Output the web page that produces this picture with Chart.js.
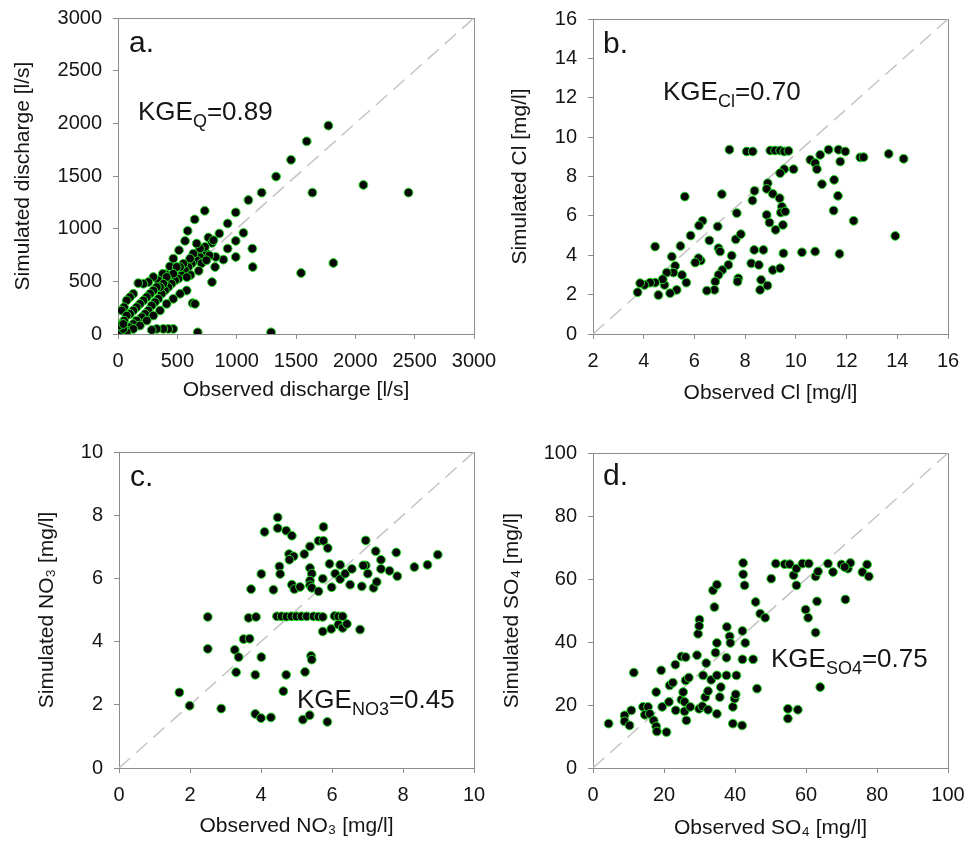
<!DOCTYPE html>
<html>
<head>
<meta charset="utf-8">
<script src="https://cdn.jsdelivr.net/npm/chart.js@4"></script>
<style>
  body { margin: 0; background: #fff; }
  #wrap { position: relative; width: 975px; height: 844px; }
  #wrap canvas { position: absolute; left: 0; top: 0; }
</style>
</head>
<body>
<div id="wrap">
  <canvas id="pa" width="975" height="844"></canvas>
  <canvas id="pb" width="975" height="844"></canvas>
  <canvas id="pc" width="975" height="844"></canvas>
  <canvas id="pd" width="975" height="844"></canvas>
</div>
<script>
// a. discharge [l/s]
const obsQ = [1773,1590,1458,1332,1211,1099,992,924,854,731,646,587,565,514,466,438,402,368,345,
  1638,2068,2448,1815,1543,1135,1132,1057,992,992,924,888,823,818,762,792,792,
  1290,672,629,649,466,424,382,326,284,31,
  377,340,298,256,214,171,129,101,73,51,31,
  747,691,663,621,593,565,537,509,481,452,424,396,368,340,312,284,256,228,200,157,129,101,73,
  804,733,691,635,607,663,551,523,495,466,410,382,354,326,298,270,242,214,185,157,129,101,73,51,31,
  579,523,466,410,354,298,242,185,129,73,17,45,11,45,
  705,770,745,680,612,580];
const simQ = [1978,1829,1654,1495,1342,1272,1154,1049,954,1170,1088,979,884,795,716,642,567,529,481,
  1342,1415,1342,674,579,636,811,960,884,731,811,706,731,636,916,865,493,
  16,16,293,286,48,48,48,48,38,32,
  572,509,541,493,477,483,382,350,318,254,223,
  763,731,700,668,636,604,557,525,509,477,445,413,382,334,302,270,223,191,159,127,95,64,32,
  890,827,811,763,716,859,668,636,636,572,541,477,445,445,413,382,350,318,286,254,223,191,175,127,95,
  413,382,334,286,223,175,127,80,48,16,16,48,80,95,
  672,745,700,600,560,540];

// b. chloride [mg/l]
const obsCl = [7.38,8.06,8.30,8.99,9.18,9.38,9.54,9.71,11.29,11.68,11.95,13.66,14.25,12.54,12.67,
  10.96,10.57,10.76,10.83,11.75,9.91,9.54,9.38,11.03,11.51,11.66,11.49,12.28,13.92,
  8.89,8.85,9.09,9.36,9.45,9.41,9.58,8.85,8.96,9.2,9.49,9.51,10.24,10.76,11.72,
  8.37,8.29,8.36,8.72,8.24,8.54,9.09,9.38,8.63,8.59,8.88,7.67,7.63,7.83,7.47,7.34,7.73,7.7,
  7.08,6.92,6.95,7.01,7.1,6.95,6.82,6.79,6.49,6.59,6.25,6.16,6.03,6.32,6.18,5.85,
  5.62,5.68,5.51,5.45,5.24,5.11,5.17,4.91,5.30,5.04,4.58,4.82,4.75,4.45,4.45,4.25,4.03,3.86,3.76];
const simCl = [9.36,9.27,9.27,9.32,9.32,9.32,9.27,9.30,9.36,9.36,9.27,9.15,8.9,8.97,8.98,
  9.1,8.85,8.68,8.37,8.76,8.37,8.37,8.17,7.61,7.83,7.02,6.27,5.75,4.98,
  7.66,7.37,7.12,6.9,6.47,6.17,6.22,6.05,5.66,5.29,5.54,4.1,4.15,4.19,4.07,
  7.27,6.78,4.27,4.27,3.59,3.51,3.25,3.34,2.75,2.24,2.46,6.14,4.81,5.07,3.98,3.51,2.83,2.66,
  7.1,5.46,4.36,4.19,3.25,3.0,2.66,2.24,2.2,4.75,3.73,3.85,3.63,5.75,5.51,5.0,
  6.98,2.61,3.0,4.47,3.46,3.93,3.12,3.12,2.24,2.07,1.98,2.49,2.78,4.44,2.61,2.61,2.49,2.58,2.12];

// c. nitrate [mg/l]
const obsNO3 = [1.70,1.99,2.88,2.50,2.50,3.26,3.37,3.30,3.51,3.68,3.65,3.86,3.72,4.01,4.10,3.84,4.01,3.84,4.00,4.28,
  4.47,4.47,4.71,4.87,4.52,4.54,4.35,4.79,4.92,4.80,4.87,4.94,5.10,5.22,5.38,5.38,5.43,5.38,5.38,5.43,
  5.62,5.62,5.76,5.76,5.88,5.74,5.93,5.99,6.09,6.23,6.23,6.37,6.56,6.51,6.84,6.95,6.95,7.01,7.17,7.26,
  7.23,7.38,7.38,7.62,7.81,7.84,8.32,8.69,8.98,6.88,
  4.45,4.58,4.72,4.86,5.00,5.14,5.29,5.48,5.62,5.74,6.07,6.18,6.30,
  5.74,5.98,6.18,6.30,6.42,6.79,4.71,4.63,5.24,5.41,5.43,5.18,5.37,5.87];
const simNO3 = [2.39,1.97,1.88,4.78,3.77,3.74,3.51,3.03,4.08,4.09,4.75,4.78,5.66,6.14,7.47,2.95,3.51,1.71,1.58,1.60,
  7.93,7.59,7.51,7.35,6.38,6.14,5.64,6.77,6.70,6.59,5.80,5.66,5.73,6.77,7.01,6.33,6.15,5.93,5.78,5.70,
  5.59,7.19,7.19,7.63,6.96,5.99,6.46,5.72,6.15,6.43,5.98,6.15,6.30,5.80,5.75,7.20,6.41,6.15,5.70,5.89,
  6.86,6.59,6.30,6.24,6.82,6.07,6.36,6.43,6.75,6.41,
  4.80,4.80,4.79,4.80,4.80,4.80,4.80,4.80,4.79,4.78,4.81,4.80,4.80,
  4.32,4.40,4.54,4.43,4.56,4.38,2.95,2.43,3.04,3.55,3.43,1.53,1.67,1.46];

// d. sulphate [mg/l]
const obsSO4 = [4.4,8.9,8.9,10.3,10.8,11.5,14.1,14.6,15.5,16.0,17.1,17.8,18.0,17.8,19.2,19.5,20.7,21.4,21.6,22.5,
  23.2,23.3,24.9,24.9,25.4,25.8,26.1,25.8,26.3,26.1,27.0,27.4,29.6,30.0,29.9,29.3,29.9,30.8,31.0,31.9,
  31.6,32.4,32.4,33.3,33.8,34.9,34.2,34.5,34.9,34.9,34.9,35.7,36.0,37.6,37.6,37.7,38.5,38.7,39.4,39.9,
  40.2,40.4,39.4,42.0,42.1,42.1,42.3,42.3,42.7,42.9,45.1,45.8,46.2,47.1,48.5,50.2,51.5,54.0,55.4,54.9,
  54.9,57.7,56.5,57.3,57.3,59.0,60.8,59.9,60.6,62.7,62.7,63.4,63.1,64.0,66.2,67.6,70.0,71.1,71.8,72.5,
  75.9,77.2,77.7,70.9];
const simSO4 = [14.1,16.7,14.8,13.5,18.3,30.3,19.4,16.9,19.4,17.2,15.1,13.2,11.6,24.1,31.0,19.4,11.4,21.0,26.2,27.1,
  32.8,18.3,35.4,21.7,24.1,21.0,35.2,18.0,15.1,27.8,28.7,19.4,42.6,47.1,45.1,35.8,18.8,19.6,29.4,33.3,
  22.5,24.4,18.5,28.0,56.4,58.2,51.1,36.6,39.7,29.4,17.2,22.5,25.7,35.0,29.4,44.8,41.8,39.7,19.4,22.0,
  23.4,29.4,14.1,13.5,34.5,43.5,65.1,61.5,58.0,39.7,34.5,52.7,25.2,49.0,47.7,60.1,64.9,64.7,64.7,18.8,
  15.7,18.5,61.2,63.3,58.0,64.9,64.9,50.3,47.7,43.0,60.8,62.4,52.9,25.7,64.9,62.2,64.6,53.5,63.3,65.1,
  62.2,64.6,60.8,63.8];

// axis ranges [min, max, step]
const rangeQ = [0, 3000, 500];
const rangeClX = [2, 16, 2];
const rangeClY = [0, 16, 2];
const rangeNO3 = [0, 10, 2];
const rangeSO4 = [0, 100, 20];

const FONT = "'Liberation Sans', Arial, sans-serif";
const INK = '#151515';
const GREY = '#8c8c8c';

// frame around plot + panel letter + KGE label
const panelDeco = {
  id: 'panelDeco',
  beforeDatasetsDraw(chart) {
    const a = chart.chartArea, ctx = chart.ctx;
    ctx.save();
    ctx.strokeStyle = GREY;
    ctx.lineWidth = 1;
    ctx.strokeRect(Math.round(a.left) + 0.5, Math.round(a.top) + 0.5,
      Math.round(a.right - a.left), Math.round(a.bottom - a.top));
    ctx.restore();
  },
  afterDatasetsDraw(chart, args, o) {
    const ctx = chart.ctx;
    ctx.save();
    ctx.fillStyle = INK;
    ctx.textBaseline = 'alphabetic';
    ctx.font = '30px ' + FONT;
    ctx.fillText(o.tag, o.tagX, o.tagY);
    let x = o.kgeX;
    ctx.font = '26px ' + FONT;
    ctx.fillText('KGE', x, o.kgeY);
    x += ctx.measureText('KGE').width;
    ctx.font = '18px ' + FONT;
    ctx.fillText(o.sub, x, o.kgeY + 7);
    x += ctx.measureText(o.sub).width;
    ctx.font = '26px ' + FONT;
    ctx.fillText(o.val, x, o.kgeY);
    ctx.restore();
  }
};

function makePanel(id, p) {
  const lh = 25.2; // 21px * 1.2
  const xBoxBottom = p.xTitleY + lh / 2;
  const pts = p.obs.map((v, i) => ({ x: v, y: p.sim[i] }));
  const axisCommon = {
    type: 'linear',
    grid: { drawOnChartArea: false, drawTicks: true, tickLength: 5, color: GREY, tickColor: GREY },
    border: { display: true, color: GREY, width: 1 },
  };
  const tickFont = { family: FONT, size: 20 };
  const titleFont = { family: FONT, size: 21 };
  new Chart(document.getElementById(id), {
    type: 'scatter',
    data: {
      datasets: [{
        data: pts,
        pointRadius: 4.4,
        pointBorderWidth: 1,
        pointBackgroundColor: '#060606',
        pointBorderColor: '#22dd22',
        order: 1
      }, {
        type: 'line',
        data: [{ x: p.xr[0], y: p.yr[0] }, { x: p.xr[1], y: p.yr[1] }],
        borderColor: '#c4c4c4',
        borderWidth: 1.5,
        borderDash: [15, 8],
        pointRadius: 0,
        order: 2
      }]
    },
    options: {
      responsive: false,
      animation: false,
      layout: { padding: { left: p.edge, right: 975 - p.box.r, top: p.box.t, bottom: 844 - xBoxBottom } },
      plugins: {
        legend: { display: false },
        tooltip: { enabled: false },
        panelDeco: p.text
      },
      scales: {
        x: Object.assign({}, axisCommon, {
          position: 'bottom',
          min: p.xr[0], max: p.xr[1],
          ticks: { stepSize: p.xr[2], color: INK, padding: 10, font: tickFont, callback: v => String(v) },
          title: { display: true, text: p.xTitle, color: INK, padding: 0, font: titleFont },
          afterFit(s) { s.height = xBoxBottom - p.box.b; s.paddingLeft = 0; s.paddingRight = 0; }
        }),
        y: Object.assign({}, axisCommon, {
          position: 'left',
          min: p.yr[0], max: p.yr[1],
          ticks: { stepSize: p.yr[2], color: INK, padding: 11, font: tickFont, callback: v => String(v) },
          title: { display: true, text: p.yTitle, color: INK, padding: { top: p.yTitleX - p.edge - lh / 2, bottom: 0 },
            font: titleFont },
          afterFit(s) { s.width = p.box.l - p.edge; s.paddingTop = 0; s.paddingBottom = 0; }
        })
      }
    },
    plugins: [panelDeco]
  });
}

makePanel('pa', {
  obs: obsQ, sim: simQ, xr: rangeQ, yr: rangeQ,
  box: { l: 118, r: 474, t: 18, b: 334 }, edge: 0, yTitleX: 23, xTitleY: 390,
  xTitle: 'Observed discharge [l/s]', yTitle: 'Simulated discharge [l/s]',
  text: { tag: 'a.', tagX: 129, tagY: 52, kgeX: 138, kgeY: 120, sub: 'Q', val: '=0.89' }
});
makePanel('pb', {
  obs: obsCl, sim: simCl, xr: rangeClX, yr: rangeClY,
  box: { l: 593, r: 948, t: 19, b: 334 }, edge: 487, yTitleX: 520, xTitleY: 393,
  xTitle: 'Observed Cl [mg/l]', yTitle: 'Simulated Cl [mg/l]',
  text: { tag: 'b.', tagX: 603, tagY: 53, kgeX: 663, kgeY: 100, sub: 'Cl', val: '=0.70' }
});
makePanel('pc', {
  obs: obsNO3, sim: simNO3, xr: rangeNO3, yr: rangeNO3,
  box: { l: 119, r: 474, t: 452, b: 768 }, edge: 0, yTitleX: 47, xTitleY: 826,
  xTitle: 'Observed NO\u2083 [mg/l]', yTitle: 'Simulated NO\u2083 [mg/l]',
  text: { tag: 'c.', tagX: 130, tagY: 486, kgeX: 297, kgeY: 708, sub: 'NO3', val: '=0.45' }
});
makePanel('pd', {
  obs: obsSO4, sim: simSO4, xr: rangeSO4, yr: rangeSO4,
  box: { l: 593, r: 948, t: 453, b: 768 }, edge: 487, yTitleX: 512, xTitleY: 828,
  xTitle: 'Observed SO\u2084 [mg/l]', yTitle: 'Simulated SO\u2084 [mg/l]',
  text: { tag: 'd.', tagX: 603, tagY: 485, kgeX: 771, kgeY: 667, sub: 'SO4', val: '=0.75' }
});
</script>
</body>
</html>
